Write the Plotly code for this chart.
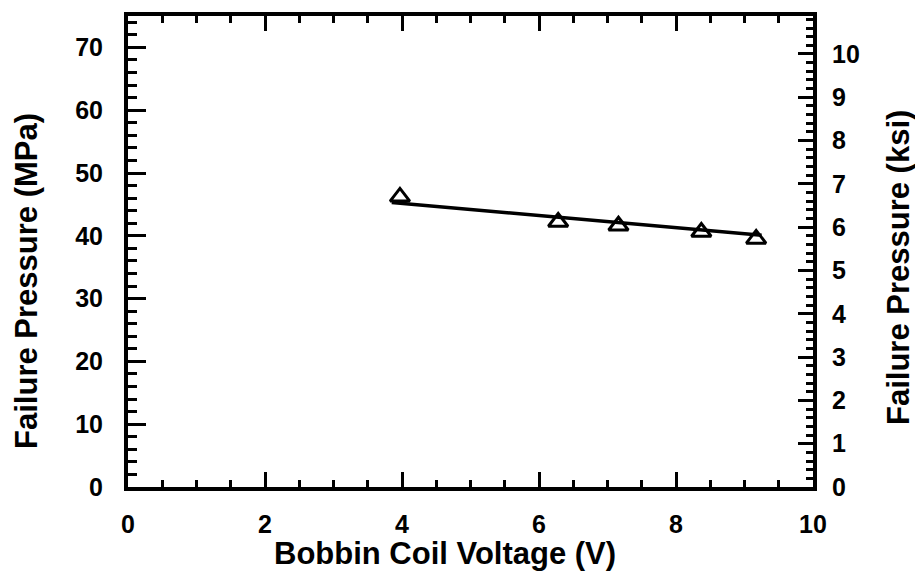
import plotly.graph_objects as go

# Data
voltage = [3.97, 6.28, 7.16, 8.37, 9.17]          # Bobbin coil voltage (V)
pressure_mpa = [46.2, 42.2, 41.6, 40.6, 39.5]     # Failure pressure (MPa)
fit_voltage = [3.85, 9.25]                        # fitted line end points (V)
fit_pressure = [45.3, 40.1]                       # fitted line end points (MPa)

MPA_PER_KSI = 6.895
y_max_mpa = 75
x_ticks = [0, 2, 4, 6, 8, 10]
y_ticks = [0, 10, 20, 30, 40, 50, 60, 70]
y2_ticks = list(range(0, 11))

FONT = "Liberation Sans"

fig = go.Figure()
fig.add_trace(go.Scatter(
    x=fit_voltage, y=fit_pressure, mode="lines",
    line=dict(color="black", width=3.5), showlegend=False, hoverinfo="skip"))
fig.add_trace(go.Scatter(
    x=voltage, y=pressure_mpa, mode="markers",
    marker=dict(symbol="triangle-up-open", size=17, color="black",
                line=dict(color="black", width=3)),
    showlegend=False))
# invisible trace to anchor the ksi axis
fig.add_trace(go.Scatter(
    x=voltage, y=[p / MPA_PER_KSI for p in pressure_mpa], yaxis="y2",
    mode="markers", marker=dict(opacity=0), showlegend=False, hoverinfo="skip"))

tickfont = dict(family=FONT, size=25, color="black", weight="bold")
titlefont = dict(family=FONT, size=31, color="black", weight="bold")

fig.update_layout(
    width=915, height=574,
    margin=dict(l=128, r=102, t=14, b=87),
    paper_bgcolor="white", plot_bgcolor="white",
    xaxis=dict(range=[0, 10], tickvals=x_ticks, ticktext=[str(v) for v in x_ticks],
               showgrid=False, zeroline=False, showline=True, linecolor="black",
               linewidth=4, mirror="ticks", ticks="inside", ticklen=15, tickwidth=3,
               tickcolor="black", tickfont=tickfont, ticklabelstandoff=12,
               minor=dict(dtick=0.5, ticks="inside", ticklen=7, tickwidth=3,
                          tickcolor="black", showgrid=False)),
    yaxis=dict(range=[0, y_max_mpa], tickvals=y_ticks, ticktext=[str(v) for v in y_ticks],
               showgrid=False, zeroline=False, showline=True, linecolor="black",
               linewidth=4, ticks="inside", ticklen=18, tickwidth=3,
               tickcolor="black", tickfont=tickfont, ticklabelstandoff=16,
               minor=dict(dtick=2, ticks="inside", ticklen=9, tickwidth=3,
                          tickcolor="black", showgrid=False)),
    yaxis2=dict(range=[0, y_max_mpa / MPA_PER_KSI], overlaying="y", side="right",
                tickvals=y2_ticks, ticktext=[str(v) for v in y2_ticks],
                showgrid=False, zeroline=False, showline=True, linecolor="black",
                linewidth=4, ticks="inside", ticklen=15, tickwidth=3,
                tickcolor="black", tickfont=tickfont, ticklabelstandoff=10,
                minor=dict(dtick=0.2, ticks="inside", ticklen=7, tickwidth=2.5,
                           tickcolor="black", showgrid=False)),
    annotations=[
        dict(text="Bobbin Coil Voltage (V)", xref="paper", yref="paper",
             x=0.4628, y=-0.1416, showarrow=False, xanchor="center", yanchor="middle",
             font=titlefont),
        dict(text="Failure Pressure (MPa)", xref="paper", yref="paper",
             x=-0.1474, y=0.4376, showarrow=False, textangle=-90,
             xanchor="center", yanchor="middle", font=titlefont),
        dict(text="Failure Pressure (ksi)", xref="paper", yref="paper",
             x=1.124, y=0.467, showarrow=False, textangle=-90,
             xanchor="center", yanchor="middle", font=titlefont),
    ],
)

fig.write_html("out.html")
